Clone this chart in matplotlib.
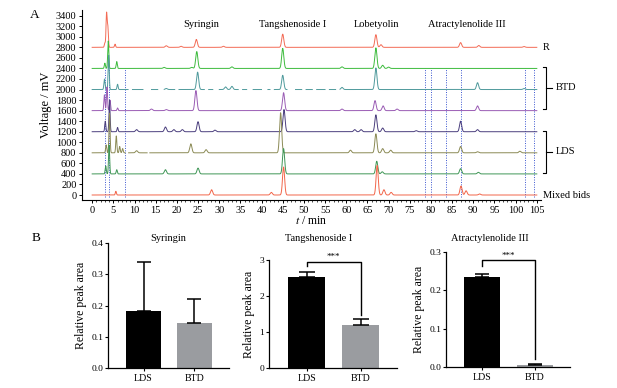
import numpy as np
import matplotlib
matplotlib.use("Agg")
import matplotlib.pyplot as plt

plt.rcParams["font.family"] = ["Liberation Serif", "DejaVu Serif"]
plt.rcParams["mathtext.fontset"] = "stix"

# ---------------- chromatogram data (retention time min, peak height mV) ----------------
trace_names = ["R", "BTD1", "BTD2", "BTD3", "LDS1", "LDS2", "LDS3", "Mixed"]
baselines = [2800, 2400, 2000, 1600, 1200, 800, 400, 0]

r_peaks = [(3.0, 80), (3.4, 640), (3.7, 380), (5.4, 60), (17.5, 30), (21, 20), (24.6, 150),
           (31, 20), (45.0, 250), (67.0, 240), (68.2, 50), (87.0, 90), (91.3, 35), (102, 15)]
btd1_peaks = [(3.0, 100), (3.8, 520), (5.8, 130), (17, 20), (23.5, 20), (24.7, 320), (33, 30),
              (45.0, 380), (59, 30), (67.0, 390), (68.6, 60), (70, 25)]
btd2_peaks = [(2.9, 200), (3.9, 650), (6.0, 100), (17.5, 20), (24.9, 330), (31.5, 50), (33, 60),
              (45.0, 270), (59, 40), (67.0, 410), (91.0, 130), (102, 20)]
btd3_peaks = [(2.9, 300), (3.5, 450), (4.2, 200), (6.0, 50), (14, 30), (17.5, 20), (24.5, 380),
              (45.2, 340), (59, 30), (66.8, 190), (68.7, 90), (72, 30), (91.0, 90)]
lds1_peaks = [(3.1, 200), (4.1, 600), (6.0, 80), (10.5, 40), (17.3, 90), (19.3, 40), (21.3, 40),
              (25.0, 190), (29, 30), (45.3, 420), (62, 40), (63.5, 40), (67.0, 320), (68.6, 70),
              (76.5, 20), (87.0, 200), (91, 40)]
lds2_peaks = [(3.3, 150), (4.1, 750), (5.7, 320), (6.5, 120), (7.2, 80), (10.5, 40), (23.3, 170),
              (26.9, 60), (44.5, 760), (61, 50), (67.0, 360), (68.6, 80), (70.5, 50), (87.0, 120),
              (91, 20), (101, 30)]
lds3_peaks = [(3.2, 150), (4.0, 550), (5.8, 80), (17.3, 80), (25.0, 110), (45.2, 480), (67.2, 240),
              (68.5, 40), (87.0, 100), (91.2, 30)]
mix_peaks = [(5.6, 70), (28.2, 100), (42.3, 50), (45.2, 530), (67.3, 560), (68.9, 100),
             (70.6, 50), (87.1, 170), (88.3, 80), (91.5, 20)]
all_peaks = [r_peaks, btd1_peaks, btd2_peaks, btd3_peaks, lds1_peaks, lds2_peaks, lds3_peaks, mix_peaks]

# missing stretches in the recorded traces (min)
btd2_gaps = [(8.5, 9.5), (12, 14), (15.5, 17), (19.5, 20.5), (26.5, 27.5), (28.5, 30), (34.5, 35.5),
             (36.5, 38), (40, 41.5), (42, 43), (46, 48), (49.5, 50.5), (52, 53), (55, 56), (57.5, 58.5)]
lds2_gaps = [(7.8, 8.6), (13, 13.6)]

marker_times = [3.1, 4.0, 7.8, 78.7, 79.9, 83.5, 87.0, 102.1, 104.3]
peak_labels = ["Syringin", "Tangshenoside I", "Lobetyolin", "Atractylenolide III"]
peak_label_times = [25.8, 47.3, 67.2, 88.4]

# ---------------- bar data ----------------
groups = ["LDS", "BTD"]
bar_titles = ["Syringin", "Tangshenoside I", "Atractylenolide III"]
bar_means = [[0.183, 0.145], [2.52, 1.19], [0.235, 0.005]]
bar_errs = [[0.157, 0.075], [0.15, 0.16], [0.007, 0.002]]

colors = ["#f36b55", "#3dbb3d", "#4f9a9c", "#9a5cb4", "#4b3f7e", "#8b8a55", "#3f9656", "#f26549"]

fig = plt.figure(figsize=(6.17, 3.88), dpi=100)

# ================= panel A =================
ax = fig.add_axes([0.1329, 0.4845, 0.744, 0.490])
t = np.linspace(0, 105, 5000)


def trace(base, peaks):
    y = np.full_like(t, float(base))
    for tp, h in peaks:
        s = 0.13 if tp < 8 else 0.25
        y += h * np.exp(-0.5 * ((t - tp) / s) ** 2)
    return y


for i, (base, peaks) in enumerate(zip(baselines, all_peaks)):
    y = trace(base, peaks)
    gaps = btd2_gaps if trace_names[i] == "BTD2" else lds2_gaps if trace_names[i] == "LDS2" else []
    for a, b in gaps:
        y[(t > a) & (t < b)] = np.nan
    ax.plot(t, y, color=colors[i], lw=0.7, zorder=3)

for xm in marker_times:
    ax.plot([xm, xm], [-40, 2400], color="#3a55d0", lw=0.7, ls=(0, (1, 1.5)), zorder=2)

for lab, tl in zip(peak_labels, peak_label_times):
    ax.text(tl, 3230, lab, ha="center", va="center", fontsize=7.5)

ax.set_xlim(-2.4, 106)
ax.set_ylim(-95, 3510)
ax.set_xticks(np.arange(0, 106, 5))
ax.set_xticks(np.arange(0, 106, 1), minor=True)
ax.set_yticks(np.arange(0, 3401, 200))
ax.tick_params(axis="both", labelsize=7.5, length=2.5, width=0.7, pad=1.5)
ax.tick_params(axis="x", which="minor", length=1.3, width=0.5)
ax.spines["top"].set_visible(False)
ax.spines["right"].set_visible(False)
for sp in ["left", "bottom"]:
    ax.spines[sp].set_linewidth(0.8)
ax.set_xlabel(r"$t$ / min", fontsize=8.5, labelpad=0)
ax.set_ylabel("Voltage / mV", fontsize=9, labelpad=3)

# right-hand labels and brackets
ax.text(106.4, 2800, "R", fontsize=7.5, va="center")
ax.text(106.4, 0, "Mixed bids", fontsize=7.5, va="center")
for lab, top, bot in [("BTD", 2435, 1632), ("LDS", 1215, 417)]:
    mid = (top + bot) / 2
    ax.plot([106.4, 107.1, 107.1, 106.4], [top, top, bot, bot], color="black", lw=0.8, clip_on=False)
    ax.plot([107.1, 108.5], [mid, mid], color="black", lw=0.8, clip_on=False)
    ax.text(109.4, mid, lab, fontsize=7.5, va="center")

fig.text(0.057, 0.961, "A", fontsize=9.5, ha="center", va="center")
fig.text(0.058, 0.387, "B", fontsize=9.5, ha="center", va="center")

# ================= panel B =================
bar_axes = [[0.175, 0.0515, 0.196, 0.322], [0.436, 0.0515, 0.208, 0.278], [0.7228, 0.054, 0.201, 0.296]]
title_x = [168, 319, 490]
ylims = [0.4, 3, 0.3]
ysteps = [0.1, 1, 0.1]
fmts = ["{:.1f}", "{:.0f}", "{:.1f}"]
sig = [None, (2.83, 2.94, 1.47, 3.09), (0.265, 0.28, 0.02, 0.29)]

for k in range(3):
    bx = fig.add_axes(bar_axes[k])
    x = np.arange(2)
    bx.bar(x, bar_means[k], width=0.69, color=["black", "#9a9ca0"], zorder=2)
    for xi, m, e in zip(x, bar_means[k], bar_errs[k]):
        bx.errorbar(xi, m, yerr=[[0], [e]], fmt="none", ecolor="black", elinewidth=1.1,
                    capsize=4.8 if k != 1 else 5.5, capthick=1.1, zorder=3)
    bx.set_xlim(-0.7, 1.68)
    bx.set_ylim(0, ylims[k])
    ticks = np.arange(0, ylims[k] + 1e-9, ysteps[k])
    bx.set_yticks(ticks)
    bx.set_yticklabels([fmts[k].format(v) for v in ticks])
    bx.set_xticks(x)
    bx.set_xticklabels(groups)
    bx.spines["top"].set_visible(False)
    bx.spines["right"].set_visible(False)
    for sp in ["left", "bottom"]:
        bx.spines[sp].set_linewidth(0.9)
    bx.tick_params(axis="y", labelsize=6.8, length=2.5, width=0.8, pad=1)
    bx.tick_params(axis="x", labelsize=7.2, length=2.5, width=0.8, pad=1.5)
    bx.set_ylabel("Relative peak area", fontsize=8.5, labelpad=3)
    if sig[k] is not None:
        y0, ytop, y1, ystar = sig[k]
        bx.plot([0, 0, 1, 1], [y0, ytop, ytop, y1], color="black", lw=1.0, clip_on=False, zorder=4)
        bx.text(0.5, ystar, "***", ha="center", va="center", fontsize=6.5)
    fig.text(title_x[k] / 617, 1 - 238 / 388, bar_titles[k], fontsize=7.5, ha="center", va="center")

fig.savefig("out.png", dpi=100)
